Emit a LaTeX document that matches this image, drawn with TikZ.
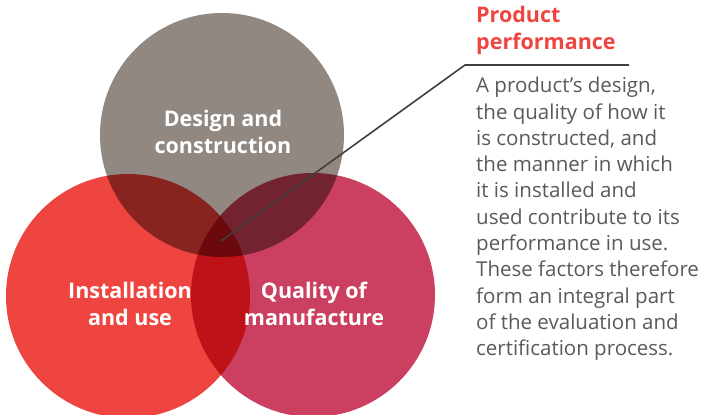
\documentclass[tikz,border=0pt]{standalone}
\usepackage{fontspec}
\usepackage{xcolor}
\setmainfont{Open Sans}

\definecolor{designgrey}{HTML}{918882}
\definecolor{installred}{HTML}{EF4540}
\definecolor{qualityred}{HTML}{CB4060}
\definecolor{bodygrey}{HTML}{5A5A5A}
\definecolor{leadergrey}{HTML}{404040}

\begin{document}
\begin{tikzpicture}[
        x=1pt, y=-1pt,
        venn/.style={circle, minimum size=244pt, inner sep=0pt, blend mode=multiply},
        venntext/.style={text=white, font=\bfseries\fontsize{21.5}{27}\selectfont, align=center, inner sep=0pt},
        headtext/.style={text=installred, font=\bfseries\fontsize{21.5}{27}\selectfont, align=left, inner sep=0pt, anchor=north west},
        bodytext/.style={text=bodygrey, font=\fontsize{20.5}{26.3}\selectfont, align=left, inner sep=0pt, anchor=north west}
    ]
        \useasboundingbox[fill=white] (0,0) rectangle (705,415);

        \node[venn, fill=designgrey] (design) at (222,135) {};
        \node[venn, fill=installred] (install) at (128,296) {};
        \node[venn, fill=qualityred] (quality) at (313,295) {};

        \node[venntext] (designlabel) at (223,132) {Design and\\construction};
        \node[venntext] (installlabel) at (130,304) {Installation\\and use};
        \node[venntext] (qualitylabel) at (314,304) {Quality of\\manufacture};

        \node[headtext] (head) at (476,6) {Product\\performance};
        \node[bodytext] (body) at (476,77) {A product's design,\\the quality of how it\\is constructed, and\\the manner in which\\it is installed and\\used contribute to its\\performance in use.\\These factors therefore\\form an integral part\\of the evaluation and\\certification process.};

        \coordinate (centre) at (221,241);
        \coordinate (knee) at (465,65);
        \coordinate (lineend) at (629,65);
        \draw[leadergrey, line width=1.6pt] (centre) -- (knee) -- (lineend);
    \end{tikzpicture}
\end{document}
